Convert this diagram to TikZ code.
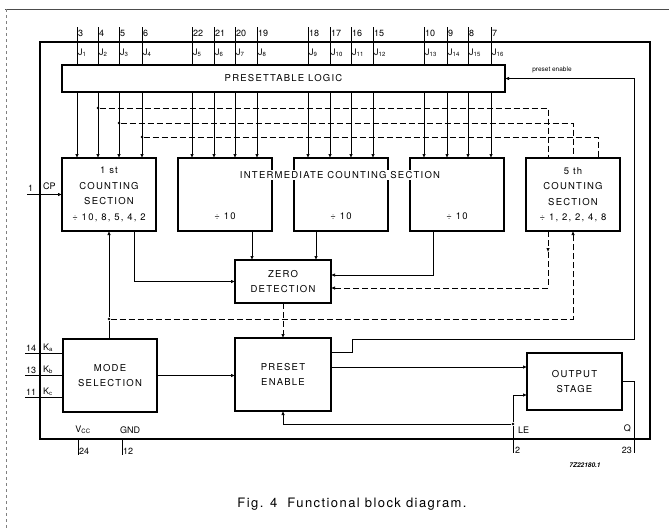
\documentclass[tikz,border=0pt]{standalone}
\usepackage{fontspec}
\setmainfont{TeX Gyre Heros}
\newfontfamily\spacedfont[LetterSpace=13]{TeX Gyre Heros}
\newfontfamily\capfont[LetterSpace=11]{TeX Gyre Heros}
\usetikzlibrary{arrows.meta,positioning,calc}

\begin{document}
\begin{tikzpicture}[
  x=1pt, y=-1pt,
  box/.style={draw, line width=1.1pt, align=center, inner sep=0pt, outer sep=0pt,
              font=\spacedfont\fontsize{9.5}{15.5}\selectfont},
  cnt/.style={box, minimum width=94, minimum height=73},
  arr/.style={-{Latex[length=4pt,width=3.4pt]}, line width=0.6pt},
  wire/.style={line width=0.6pt},
  dsh/.style={line width=0.6pt, dash pattern=on 6pt off 3pt},
  dot/.style={circle, fill, inner sep=0pt, minimum size=2.8pt},
  pin/.style={font=\fontsize{9}{10}\selectfont, inner sep=1pt},
  txt/.style={font=\spacedfont\fontsize{9.5}{15.5}\selectfont, inner sep=1pt, align=center},
]
\useasboundingbox (0,0) rectangle (669,530);
\draw[line width=0.6pt, black!70] (5,9) -- (669,9);
\draw[line width=0.5pt, black!50, dashed] (6,9) -- (6,530);

\node[draw, line width=1.1pt, minimum width=610, minimum height=397, inner sep=0pt] (ic) at (345,240.5) {};
\node[box, minimum width=443, minimum height=27] (logic) at (283.5,78.5) {PRESETTABLE LOGIC};

\node[cnt] (first) at (109,194.5) {1 st\\COUNTING\\SECTION\\{\char"F7} 10, 8, 5, 4, 2};
\node[cnt, right=22pt of first] (int1) {};
\node[cnt, right=22pt of int1] (int2) {};
\node[cnt, right=22pt of int2] (int3) {};
\node[cnt, right=22pt of int3] (fifth) {5 th\\COUNTING\\SECTION\\{\char"F7} 1, 2, 2, 4, 8};
\foreach \b in {int1,int2,int3}
  \node[txt] (d\b) at ($(\b.center)+(0,22)$) {{\char"F7} 10};
\node[txt, fill=white] (interlbl) at (340,175) {INTERMEDIATE COUNTING SECTION};

\node[box, minimum width=96, minimum height=43] (zero) at (283,281.5) {ZERO\\DETECTION};
\node[box, minimum width=94, minimum height=73] (mode) at (110,375.5) {MODE\\SELECTION};
\node[box, minimum width=96, minimum height=73] (preset) at (283,374.5) {PRESET\\ENABLE};
\node[box, minimum width=95, minimum height=57] (output) at (574.5,381.5) {OUTPUT\\STAGE};

\foreach \x/\n/\j/\b in {77/3/1/first,98/4/2/first,119/5/3/first,142/6/4/first,
    192/22/5/int1,214/21/6/int1,235/20/7/int1,257/19/8/int1,
    308/18/9/int2,330/17/10/int2,351/16/11/int2,373/15/12/int2,
    424/10/13/int3,447/9/14/int3,468/8/15/int3,491/7/16/int3} {
  \coordinate (px) at (\x,0);
  \draw[wire] (\x,27) -- (logic.north -| px);
  \node[pin, anchor=west] (num\j) at (\x,33) {\n};
  \node[pin, anchor=west] (jl\j) at (\x,53) {J\textsubscript{\j}};
  \draw[arr] (logic.south -| px) -- (\b.north -| px);
}

\node[dot] (d1) at (98,108) {};
\node[dot] (d2) at (119,123) {};
\node[dot] (d3) at (142,137) {};
\coordinate (f1) at ($(fifth.north west)+(22,0)$);
\coordinate (f2) at ($(fifth.north west)+(47,0)$);
\coordinate (f3) at ($(fifth.north west)+(72,0)$);
\draw[dsh] (d1) -| (f1);
\draw[dsh] (d2) -| (f2);
\draw[dsh] (d3) -| (f3);

\coordinate (cpin) at (27,194.5);
\draw[arr] (cpin) -- (first.west);
\node[pin, anchor=south west] (cpnum) at (27,193) {1};
\node[pin, anchor=south west] (cplbl) at (42,191) {CP};

\foreach \y/\n/\k in {353/14/a,375/13/b,397/11/c} {
  \coordinate (k\k) at (25,\y);
  \draw[wire] (k\k) -- (mode.west |- k\k);
  \node[pin, anchor=south west] (kn\k) at (25,\y) {\n};
  \node[pin, anchor=south west] (kl\k) at (42,\y) {K\textsubscript{\k}};
}

\coordinate (z0) at (134,282);
\coordinate (z1) at (252,0);
\coordinate (z2) at (316,0);
\coordinate (z3) at (433,275);
\coordinate (z4) at (548,288);
\coordinate (z4m) at (548,252);
\draw[arr] (first.south -| z0) |- (zero.west);
\draw[arr] (int1.south -| z1) -- (zero.north -| z1);
\draw[arr] (int2.south -| z2) -- (zero.north -| z2);
\draw[arr] (int3.south -| z3) |- (zero.east |- z3);
\draw[dsh, arr] (fifth.south -| z4) -- (z4m);
\draw[dsh, arr] (z4m) |- (zero.east |- z4);
\draw[dsh, arr] (zero.south) -- (preset.north);

\node[dot] (mj) at (109,319) {};
\coordinate (f2b) at ($(fifth.south west)+(47,0)$);
\draw[wire] (mode.north -| mj) -- (mj);
\draw[arr] (mj) -- (first.south -| mj);
\draw[dsh, arr] (mj) -| (f2b);
\draw[arr] (mode.east) -- (mode.east -| preset.west);

\coordinate (pe0) at (0,352);
\coordinate (pe1) at (352,339);
\coordinate (pe2) at ($(logic.east)+(129,0)$);
\draw[arr] (preset.east |- pe0) -| (pe1) -| (pe2) -- (logic.east);
\node[font=\fontsize{6.5}{8}\selectfont, inner sep=1pt] (pelbl) at (552,70) {preset enable};

\coordinate (po) at (0,367);
\draw[arr] (preset.east |- po) -- (output.west |- po);

\coordinate (le) at (513,453);
\coordinate (lo) at (513,395);
\node[dot] (lej) at (513,424) {};
\draw[wire] (le) -- (lej);
\draw[arr] (lej) |- (output.west |- lo);
\draw[arr] (lej) -| (preset.south);
\node[pin, anchor=west] (lelbl) at (517,430) {LE};
\node[pin, anchor=west] (lenum) at (514,450) {2};

\coordinate (qo) at (634,453);
\draw[wire] (output.east) -| (qo);
\node[pin, anchor=east] (qlbl) at (632,428) {Q};
\node[pin, anchor=east] (qnum) at (633,450) {23};

\draw[wire] (78,440) -- (78,455);
\draw[wire] (122,440) -- (122,455);
\node[pin, anchor=south] (vcc) at (83,435) {V\textsubscript{CC}};
\node[pin, anchor=south] (gnd) at (130,435) {GND};
\node[pin, anchor=west] (vccnum) at (78,451) {24};
\node[pin, anchor=west] (gndnum) at (122,451) {12};

\node[font=\fontsize{6.5}{8}\selectfont\itshape\bfseries, inner sep=1pt] (code) at (585,465) {7Z22180.1};
\node[font=\capfont\fontsize{13}{15}\selectfont, inner sep=0pt] (caption) at (352,504) {Fig. 4\ \ Functional block diagram.};
\end{tikzpicture}
\end{document}
